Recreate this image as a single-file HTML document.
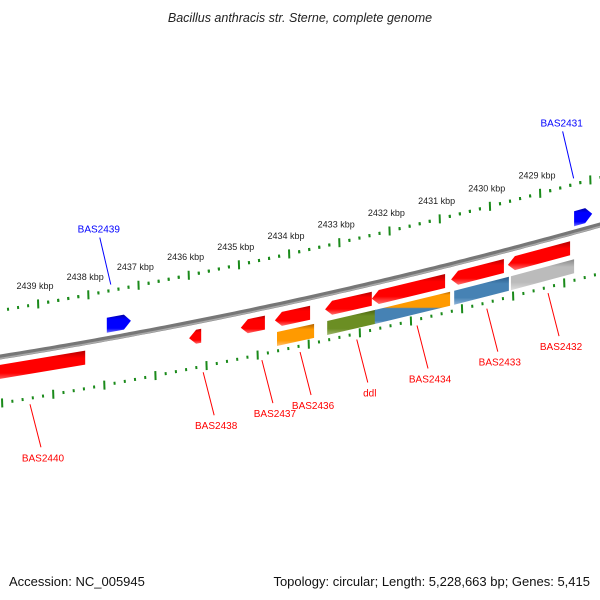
<!DOCTYPE html>
<html><head><meta charset="utf-8"><style>
body{margin:0;background:#fff}
svg{display:block;font-family:"Liberation Sans",sans-serif}
</style></head><body>
<svg id="map" width="600" height="600" viewBox="0 0 600 600">
<defs>
<linearGradient id="gred" x1="0" y1="0" x2="0" y2="1"><stop offset="0" stop-color="#b00000"/><stop offset="0.25" stop-color="#f00"/><stop offset="0.75" stop-color="#f00"/><stop offset="1" stop-color="#ff7070"/></linearGradient>
<linearGradient id="gblue" x1="0" y1="0" x2="0" y2="1"><stop offset="0" stop-color="#0000a0"/><stop offset="0.25" stop-color="#00f"/><stop offset="0.75" stop-color="#00f"/><stop offset="1" stop-color="#7070ff"/></linearGradient>
<linearGradient id="gorange" x1="0" y1="0" x2="0" y2="1"><stop offset="0" stop-color="#b06000"/><stop offset="0.25" stop-color="#ff9a00"/><stop offset="0.75" stop-color="#ff9a00"/><stop offset="1" stop-color="#ffc070"/></linearGradient>
<linearGradient id="ggreen" x1="0" y1="0" x2="0" y2="1"><stop offset="0" stop-color="#4a6010"/><stop offset="0.25" stop-color="#6b8e23"/><stop offset="0.75" stop-color="#6b8e23"/><stop offset="1" stop-color="#a0b870"/></linearGradient>
<linearGradient id="gsteel" x1="0" y1="0" x2="0" y2="1"><stop offset="0" stop-color="#2a5a88"/><stop offset="0.25" stop-color="#4682b4"/><stop offset="0.75" stop-color="#4682b4"/><stop offset="1" stop-color="#90b4d8"/></linearGradient>
<linearGradient id="ggray" x1="0" y1="0" x2="0" y2="1"><stop offset="0" stop-color="#888"/><stop offset="0.25" stop-color="#bbb"/><stop offset="0.75" stop-color="#bbb"/><stop offset="1" stop-color="#ddd"/></linearGradient>
<linearGradient id="gorblue" x1="0" y1="0" x2="0" y2="1"><stop offset="0" stop-color="#b06000"/><stop offset="0.1" stop-color="#ff9a00"/><stop offset="0.48" stop-color="#ff9a00"/><stop offset="0.52" stop-color="#4682b4"/><stop offset="0.9" stop-color="#4682b4"/><stop offset="1" stop-color="#90b4d8"/></linearGradient>
</defs>
<text x="300" y="22" text-anchor="middle" font-size="12.5" font-style="italic" fill="#222">Bacillus anthracis str. Sterne, complete genome</text>
<text x="9" y="586" font-size="13" fill="#111">Accession: NC_005945</text>
<text x="590" y="586" text-anchor="end" font-size="13" fill="#111">Topology: circular; Length: 5,228,663 bp; Genes: 5,415</text>
<g id="g"></g>
</svg>
<script>
const tickKbp=[2439,2438,2437,2436,2435,2434,2433,2432,2431,2430,2429,2428];
const tickLabels=["2439 kbp","2438 kbp","2437 kbp","2436 kbp","2435 kbp","2434 kbp","2433 kbp","2432 kbp","2431 kbp","2430 kbp","2429 kbp",""];
const geneNames=["BAS2440","BAS2439","BAS2438","BAS2437","BAS2436","BAS2436-cog","ddl","ddl-cog","BAS2434","BAS2434-cog","BAS2433","BAS2433-cog","BAS2432","BAS2432-cog","BAS2431"];
const geneStart=[2439.96,2437.63,2435.99,2434.96,2434.28,2434.24,2433.28,2433.24,2432.35,2432.29,2430.77,2430.71,2429.64,2429.58,2428.32];
const geneEnd=[2438.06,2437.15,2435.75,2434.48,2433.58,2433.50,2432.35,2432.27,2430.89,2430.79,2429.72,2429.62,2428.40,2428.32,2427.96];
const geneRow=[1,-1,1,1,1,2,1,2,1,2,1,2,1,2,-1];
const geneDir=[0,1,-1,-1,-1,0,-1,0,-1,0,-1,0,-1,0,1];
const geneFill=["gred","gblue","gred","gred","gred","gorange","gred","ggreen","gred","gorblue","gred","gsteel","gred","ggray","gblue"];
const labelNames=["BAS2431","BAS2439","BAS2440","BAS2438","BAS2437","BAS2436","ddl","BAS2434","BAS2433","BAS2432"];
const labelKbp=[2428.33,2437.55,2439.16,2435.71,2434.54,2433.78,2432.65,2431.45,2430.06,2428.84];
const labelStrand=[-1,-1,1,1,1,1,1,1,1,1];

const NS="http://www.w3.org/2000/svg";
const G=document.getElementById('g');
function mk(t,a,p){const e=document.createElementNS(NS,t);for(const k in a)e.setAttribute(k,a[k]);(p||G).appendChild(e);return e;}
function xOf(k){return (2439.757-k)*50.2;}
function yB(x){return 357-0.16*x-0.0001*x*x;}
function yU(x){return 310.6-0.1716*x-8.44e-5*x*x;}
function yL(x){return 403.3-0.1654*x-8.5e-5*x*x;}
function xL(i){return 2+51.1*i;}
let d="";for(let x=-5;x<=605;x+=5)d+=(d?"L":"M")+x+","+yB(x).toFixed(1);
const bb=mk('path',{d:d,stroke:'#777',"stroke-width":5,fill:'none'});


mk('path',{d:d,stroke:'#aaa',"stroke-width":1.5,fill:'none',transform:'translate(0,1.5)'});
function tick(x,yf,major,name){
  const y=yf(x);const h=major?4.5:1.5;
  const t=mk('line',{x1:x,y1:y-h,x2:x+0.3,y2:y+h,stroke:'#1a8a1a',"stroke-width":2});
  
  
}
for(let i=0;i<tickKbp.length;i++){
  const x=xOf(tickKbp[i]);
  tick(x,yU,true,'upper-major-tick');
  for(let j=1;j<5;j++){tick(x+j*10.04,yU,false,'upper-minor-tick');tick(x-50.2+j*10.04,yU,false,'upper-minor-tick');}
  if(tickLabels[i]){const tx=mk('text',{x:x-3,y:yU(x)-15,"text-anchor":"middle","font-size":9,fill:'#222'});tx.textContent=tickLabels[i];
    
    }
  const xl=xL(i);
  tick(xl,yL,true,'lower-major-tick');
  for(let j=1;j<5;j++)tick(xl+j*10.22,yL,false,'lower-minor-tick');
}
const rowOff={"-1":[-21,-6],"1":[8,22],"2":[27,41]};
for(let i=0;i<geneNames.length;i++){
  let x1=xOf(geneStart[i]),x2=xOf(geneEnd[i]);const o=rowOff[geneRow[i]];
  const top=x=>yB(x)+o[0],bot=x=>yB(x)+o[1],mid=x=>(top(x)+bot(x))/2;
  let p=[];const a=7;
  if(geneDir[i]===-1){p=[[x1,mid(x1)],[x1+a,top(x1+a)],[x2,top(x2)],[x2,bot(x2)],[x1+a,bot(x1+a)]];}
  else if(geneDir[i]===1){p=[[x1,top(x1)],[x2-a,top(x2-a)],[x2,mid(x2)],[x2-a,bot(x2-a)],[x1,bot(x1)]];}
  else p=[[x1,top(x1)],[x2,top(x2)],[x2,bot(x2)],[x1,bot(x1)]];
  const g=mk('polygon',{points:p.map(q=>q[0].toFixed(1)+","+q[1].toFixed(1)).join(" "),fill:'url(#'+geneFill[i]+')'});
  
  
}
for(let i=0;i<labelNames.length;i++){
  const x=xOf(labelKbp[i]);const col=labelStrand[i]<0?'#00f':'#f00';
  let y1,y2,ty,xa,xb,lx;
  if(labelStrand[i]<0){y2=yU(x)-6;y1=y2-47;ty=y1-5;xa=x-11;xb=x;lx=xa-1;}
  else{y1=yL(x)+6;y2=y1+43;ty=y2+14;xa=x;xb=x+11;lx=xb+2;}
  const ln=mk('line',{x1:xa,y1:y1,x2:xb,y2:y2,stroke:col,"stroke-width":1});
  
  
  const t=mk('text',{x:lx,y:ty,"text-anchor":"middle","font-size":10,fill:col});
  t.textContent=labelNames[i];
  
  
}
</script>
</body></html>
